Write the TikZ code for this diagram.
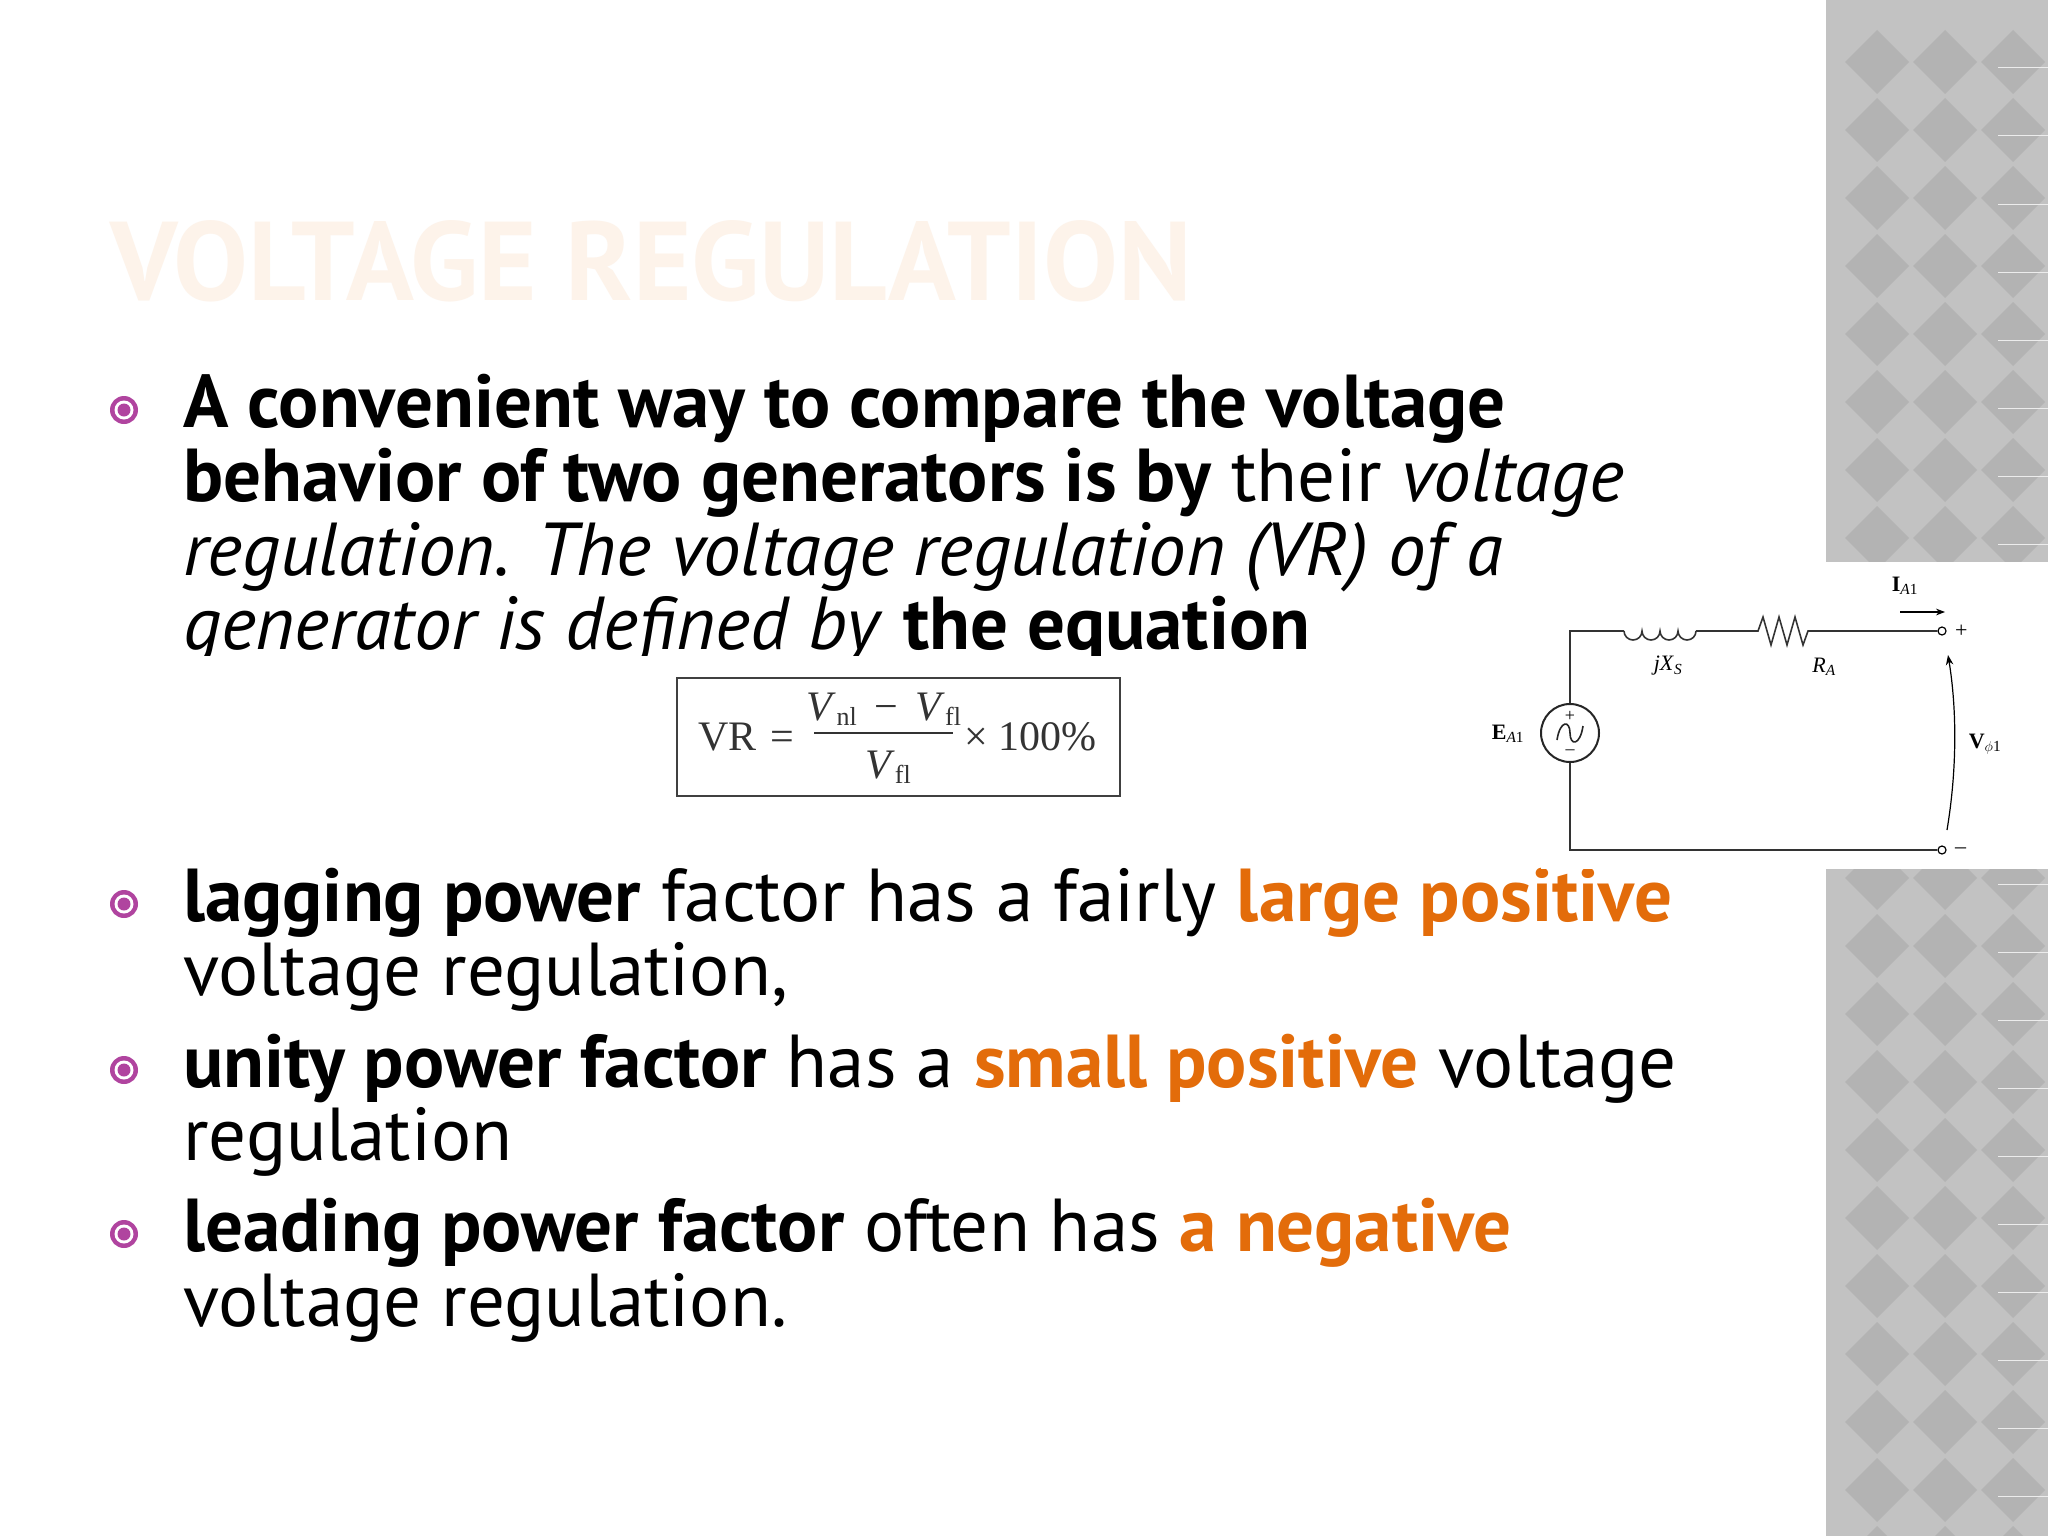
\documentclass[tikz,border=0pt]{standalone}
\usepackage{fontspec}
\setmainfont{PT Sans}
\newfontfamily\serifc{Liberation Serif}
\usetikzlibrary{arrows.meta}
\definecolor{mag}{HTML}{B0449F}
\definecolor{org}{HTML}{E36C0A}
\definecolor{bandA}{HTML}{C2C2C2}
\definecolor{bandB}{HTML}{B3B3B3}
\definecolor{ttl}{HTML}{FDF3EA}
\tikzset{
  line/.style={anchor=base west, inner sep=0pt, font=\fontsize{75}{78}\selectfont},
  wire/.style={line width=1.6pt, black!80},
  lbl/.style={font=\serifc\fontsize{22}{24}\selectfont, inner sep=0pt},
  eqf/.style={font=\serifc\fontsize{42}{44}\selectfont, inner sep=0pt, text=black!80}
}
\newcommand{\bul}[2]{%
  \fill[mag] (#1,#2) circle (14);
  \fill[white] (#1,#2) circle (9.5);
  \fill[mag] (#1,#2) circle (6.5);}
\newcommand{\sbx}[1]{\raisebox{-0.12em}{\fontsize{26}{26}\selectfont #1}}
\begin{document}
\begin{tikzpicture}[x=1pt,y=-1pt]
\useasboundingbox (0,0) rectangle (2048,1536);
\fill[white] (0,0) rectangle (2048,1536);
% right band
\fill[bandA] (1826,0) rectangle (2048,1536);
\begin{scope}
\clip (1826,0) rectangle (2048,1536);
\foreach \i in {0,...,4} \foreach \j in {0,...,23} {
  \fill[bandB] ({1877+68*\i},{30+68*\j}) -- ++(32,32) -- ++(-32,32) -- ++(-32,-32) -- cycle;
}
\foreach \j in {1,...,23} \draw[white!85!gray, line width=1pt] (1998,{68*\j}) -- (2048,{68*\j});
\end{scope}
% title
\node[anchor=base west, inner sep=0pt, text=ttl, font=\bfseries\fontsize{112}{112}\selectfont] (title) at (110,300) {VOLTAGE REGULATION};
% first bullet
\bul{124}{410}
\node[line] (l1) at (183,427) {\textbf{A convenient way to compare the voltage}};
\node[line] (l2) at (183,501) {\textbf{behavior of two generators is by} their \textit{voltage}};
\node[line] (l3) at (183,575) {\textit{regulation. The voltage regulation (VR) of a}};
\node[line] (l4) at (183,649) {\textit{generator is defined by} \textbf{the equation}};
\fill[white] (150,656) rectangle (1500,676);
% equation
\draw[line width=2.5pt, black!75] (677,678) rectangle (1120,796);
\node[eqf, anchor=base west] (vr) at (698,750) {VR\,\,=};
\node[eqf, anchor=base] (num) at (884,720) {\textit{V}\sbx{nl} \,\textminus\, \textit{V}\sbx{fl}};
\node[eqf, anchor=base] (den) at (888,778) {\textit{V}\sbx{fl}};
\draw[line width=2pt, black!80] (814,733) -- (953,733);
\node[eqf, anchor=base west] (pc) at (964,750) {\texttimes\ 100\%};
% bullets 2
\bul{124}{904}
\node[line] (b1) at (183,921) {\textbf{lagging power} factor has a fairly \textcolor{org}{\textbf{large positive}}};
\node[line] (b1b) at (183,995) {voltage regulation,};
\bul{124}{1070}
\node[line] (b2) at (183,1087) {\textbf{unity power factor} has a \textcolor{org}{\textbf{small positive}} voltage};
\node[line] (b2b) at (183,1160) {regulation};
\bul{124}{1234}
\node[line] (b3) at (183,1251) {\textbf{leading power factor} often has \textcolor{org}{\textbf{a negative}}};
\node[line] (b3b) at (183,1326) {voltage regulation.};
% circuit panel
\fill[white] (1541,562) rectangle (2048,869);
\coordinate (tl) at (1570,631);
\coordinate (bl) at (1570,850);
\node[circle, draw=black!85, line width=2pt, minimum size=58pt, inner sep=0pt] (src) at (1570,733) {};
\coordinate (li) at (1624,631);
\coordinate (lo) at (1696,631);
\coordinate (ri) at (1758,631);
\coordinate (ro) at (1808,631);
\node[circle, draw, line width=1.2pt, minimum size=8pt, inner sep=0pt] (tp) at (1942,631) {};
\node[circle, draw, line width=1.2pt, minimum size=8pt, inner sep=0pt] (tm) at (1942,850) {};
\draw[wire] (src.north) -- (tl) -- (li);
\draw[wire] (li) arc (180:0:9) arc (180:0:9) arc (180:0:9) arc (180:0:9);
\draw[wire] (lo) -- (ri) -- ++(5,-14) -- ++(8,28) -- ++(8,-28) -- ++(8,28) -- ++(8,-28) -- ++(8,28) -- (ro) -- (tp.west);
\draw[wire] (src.south) -- (bl) -- (tm.west);
\draw[black!85, line width=1.6pt] (1557,740) .. controls (1560,720) and (1570,720) .. (1570,733) .. controls (1570,746) and (1580,746) .. (1583,726);
\node[lbl, font=\serifc\fontsize{18}{18}\selectfont] (sp) at (1570,716) {+};
\node[lbl, font=\serifc\fontsize{18}{18}\selectfont] (sm) at (1570,752) {\textendash};
\node[lbl] (ea) at (1508,734) {\textbf{E}\textsubscript{\textit{A}1}};
\node[lbl] (xs) at (1668,666) {\textit{jX}\textsubscript{\textit{S}}};
\node[lbl] (ra) at (1824,667) {\textit{R}\textsubscript{\textit{A}}};
\node[lbl] (ia) at (1905,586) {\textbf{I}\textsubscript{\textit{A}1}};
\node[lbl] (vp) at (1985,744) {\textbf{V}\textsubscript{$\phi$1}};
\node[lbl, anchor=west] (pl) at (1955,631) {+};
\node[lbl, anchor=west] (mi) at (1955,851) {\textendash};
\coordinate (ias) at (1900,612);
\coordinate (iae) at (1945,612);
\draw[-{Stealth[length=9pt]}, line width=1.2pt] (ias) -- (iae);
\coordinate (vs) at (1947,830);
\coordinate (ve) at (1948,655);
\draw[-{Stealth[length=10pt]}, line width=1.2pt] (vs) .. controls (1957,770) and (1957,710) .. (ve);
\end{tikzpicture}
\end{document}
